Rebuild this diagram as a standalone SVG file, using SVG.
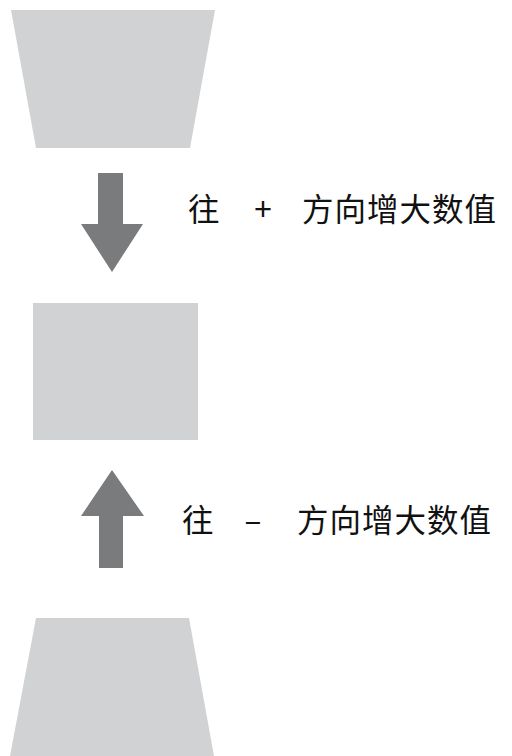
<svg xmlns="http://www.w3.org/2000/svg" width="512" height="756" viewBox="0 0 512 756">
  <style>
    .shape { fill: #d0d2d4; }
    .arrow { fill: #7a7b7d; }
    .label { font-family: "Noto Sans CJK SC", "Noto Sans", sans-serif; font-size: 31.5px; font-weight: 400; fill: #111111; }
  </style>
  <rect width="512" height="756" fill="#ffffff"/>
  <g id="top-shape">
    <polygon class="shape" points="11,10 215,10 190,148 36,148"/>
  </g>
  <g id="middle-shape">
    <rect class="shape" x="33" y="303" width="165" height="137"/>
  </g>
  <g id="bottom-shape">
    <polygon class="shape" points="36,618 189,618 214,756 10,756"/>
  </g>
  <g id="connectors">
    <polygon class="arrow" points="98,173 123,173 123,224 143,224 112,272 81,224 98,224"/>
    <polygon class="arrow" points="112,470 144,516 123,516 123,568 99,568 99,516 81,516"/>
  </g>
  <g id="label-plus">
    <text class="label" x="188" y="221">往</text>
    <text class="label" x="263" y="221" text-anchor="middle">+</text>
    <text class="label" x="302" y="221" letter-spacing="1">方向增大数值</text>
  </g>
  <g id="label-minus">
    <text class="label" x="182" y="532">往</text>
    <text class="label" x="253" y="532" text-anchor="middle">–</text>
    <text class="label" x="297" y="532" letter-spacing="1">方向增大数值</text>
  </g>
</svg>
